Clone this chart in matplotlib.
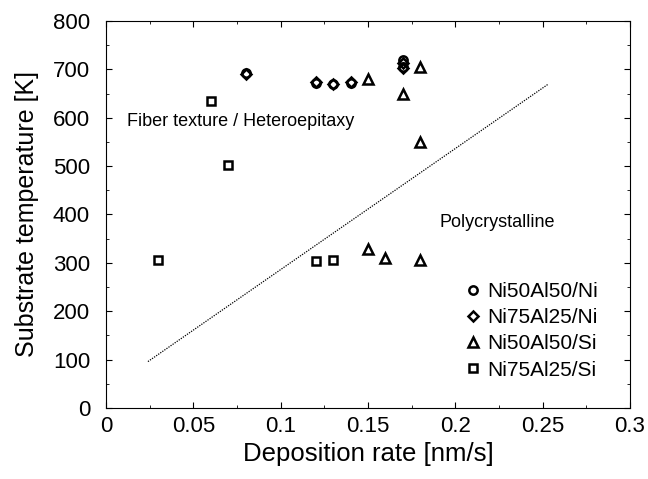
import numpy as np
import matplotlib.pyplot as plt
from matplotlib.ticker import MultipleLocator

plt.rcParams['font.family'] = ['Liberation Sans', 'DejaVu Sans']

# Ni50Al50/Ni (circles)
rate_5050_ni = [0.08, 0.12, 0.13, 0.14, 0.17, 0.17]
temp_5050_ni = [692, 672, 670, 672, 720, 705]

# Ni75Al25/Ni (diamonds)
rate_7525_ni = [0.08, 0.12, 0.13, 0.14, 0.17, 0.17]
temp_7525_ni = [691, 673, 669, 673, 713, 703]

# Ni50Al50/Si (triangles)
rate_5050_si = [0.15, 0.17, 0.18, 0.18, 0.15, 0.16, 0.18]
temp_5050_si = [680, 650, 705, 549, 328, 311, 305]

# Ni75Al25/Si (squares)
rate_7525_si = [0.03, 0.06, 0.07, 0.12, 0.13]
temp_7525_si = [305, 635, 502, 304, 306]

# boundary line
line_rate = [0.024, 0.253]
line_temp = [96, 669]

fig = plt.figure(figsize=(6.48, 4.79), dpi=100)
ax = fig.add_axes([0.1636, 0.1482, 0.8086, 0.808])

mk = dict(linestyle='none', markerfacecolor='none', markeredgecolor='black',
          markeredgewidth=1.8, markersize=6)
ax.plot(rate_5050_ni, temp_5050_ni, marker='o', label='Ni50Al50/Ni', **mk)
ax.plot(rate_7525_ni, temp_7525_ni, marker='D', label='Ni75Al25/Ni', **dict(mk, markersize=5))
ax.plot(rate_5050_si, temp_5050_si, marker='^', label='Ni50Al50/Si', **dict(mk, markersize=6.5))
ax.plot(rate_7525_si, temp_7525_si, marker='s', label='Ni75Al25/Si', **dict(mk, markersize=5.5))

ax.plot(line_rate, line_temp, color='black', linestyle=(0, (1, 1)), linewidth=0.9)

ax.text(0.012, 592, 'Fiber texture / Heteroepitaxy', fontsize=13, va='center')
ax.text(0.191, 384, 'Polycrystalline', fontsize=13, va='center')

ax.set_xlim(0, 0.3)
ax.set_ylim(0, 800)
ax.xaxis.set_minor_locator(MultipleLocator(0.025))
ax.yaxis.set_major_locator(MultipleLocator(100))
ax.yaxis.set_minor_locator(MultipleLocator(50))
ax.set_xticks([0, 0.05, 0.1, 0.15, 0.2, 0.25, 0.3])
ax.set_xticklabels(['0', '0.05', '0.1', '0.15', '0.2', '0.25', '0.3'])
ax.tick_params(which='both', direction='in', top=True, right=True, labelsize=16)
ax.tick_params(which='major', length=4)
ax.tick_params(which='minor', length=2.5)
ax.tick_params(axis='x', pad=6)
ax.tick_params(axis='y', pad=11.5)

ax.set_xlabel('Deposition rate [nm/s]', fontsize=18.5, labelpad=3)
ax.set_ylabel('Substrate temperature [K]', fontsize=18, labelpad=10)

leg = ax.legend(loc='upper left', bbox_to_anchor=(0.684, 0.326), frameon=False, fontsize=15,
                handletextpad=0.3, handlelength=0.8, labelspacing=0.35, borderpad=0,
                borderaxespad=0)

fig.savefig('out.png', dpi=100)
